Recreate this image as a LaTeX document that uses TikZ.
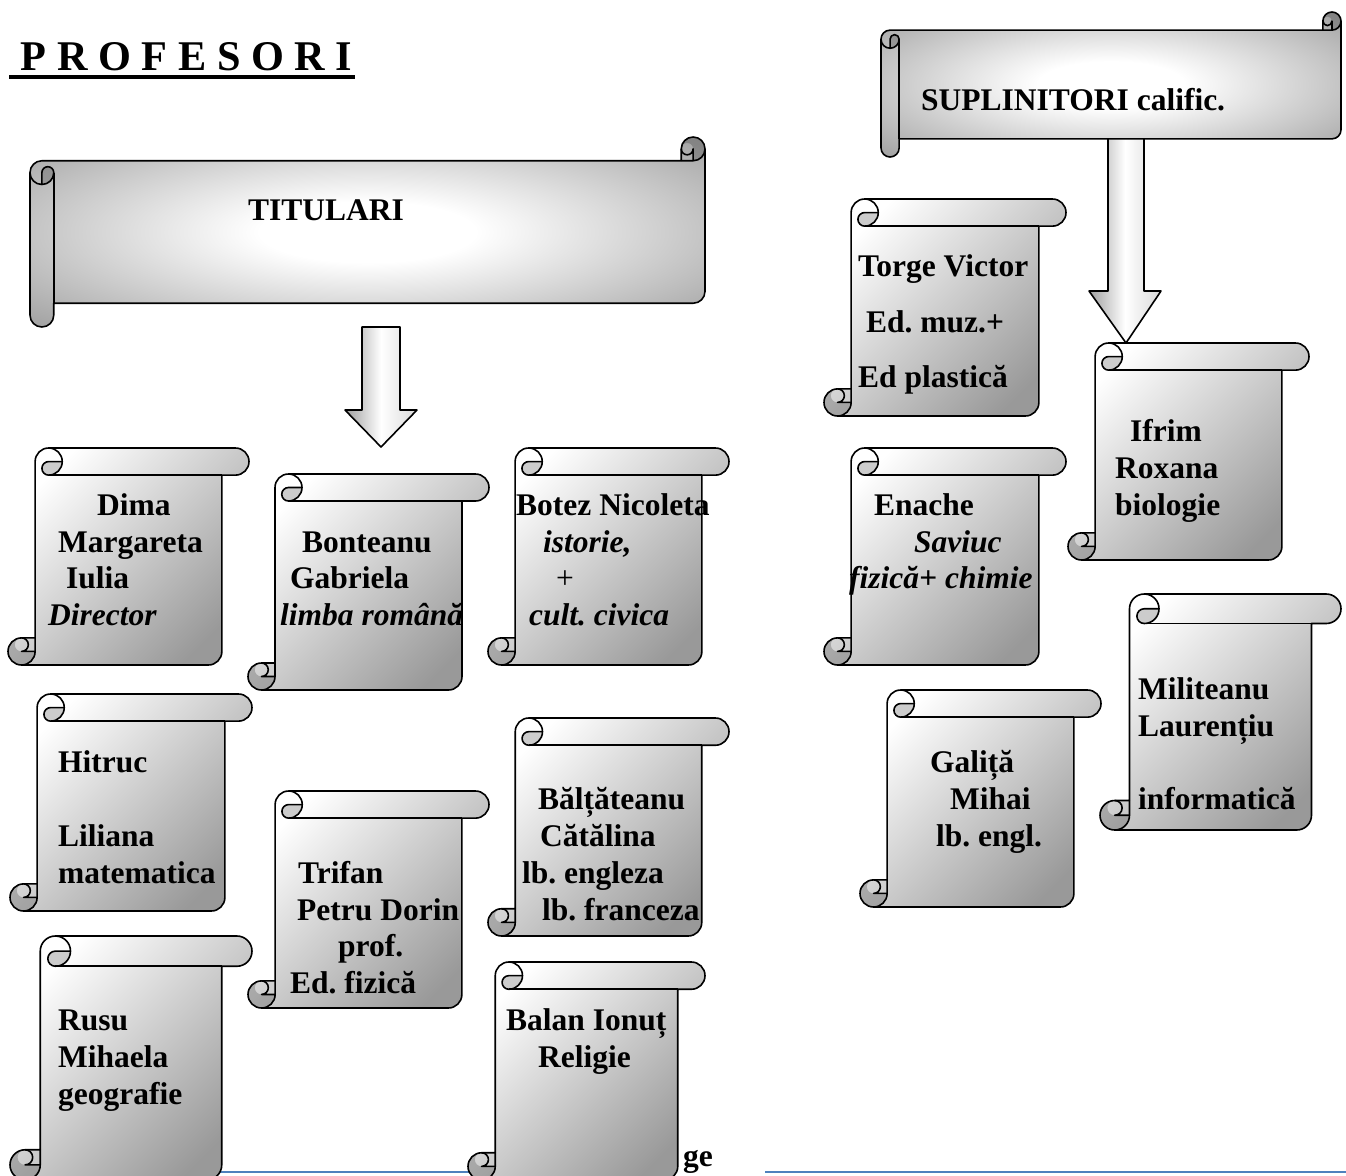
\documentclass[tikz,border=0pt]{standalone}
\usepackage{fontspec}
\setmainfont{Liberation Serif}
\frenchspacing
\pgfdeclareradialshading{hscshade}{\pgfpoint{0bp}{0bp}}{color(0bp)=(white); color(8bp)=(white); color(36bp)=(black!38); color(50bp)=(black!44); color(100bp)=(black!44)}
\tikzset{
  outl/.style={draw=black, line width=1.6pt, line join=round},
  vfill/.style={shading=axis, top color=white, bottom color=black!40, shading angle=45},
  hfill/.style={shading=hscshade},
  darkpart/.style={fill=black, fill opacity=0.2},
  txt/.style={font=\fontsize{31.5}{37}\selectfont\bfseries, anchor=base west, inner sep=0pt},
  itxt/.style={txt, font=\fontsize{31.5}{37}\selectfont\bfseries\itshape},
  arrowfill/.style={left color=black!38, right color=black!15, middle color=white},
  footline/.style={draw={rgb,255:red,79;green,129;blue,189}, line width=2.5pt}
}
% vertical scroll: #1 name, #2 left, #3 top, #4 right, #5 bottom
\newcommand{\vscrollshape}[5]{%
  \pgfmathsetmacro{\qL}{#2}\pgfmathsetmacro{\qT}{#3}\pgfmathsetmacro{\qR}{#4}\pgfmathsetmacro{\qB}{#5}%
  \pgfmathsetmacro{\qC}{0.125*min(\qR-\qL,\qB-\qT)}%
  \pgfmathsetmacro{\qH}{\qC/2}\pgfmathsetmacro{\qQ}{\qC/4}%
  \pgfmathsetmacro{\qXa}{\qL+\qC}\pgfmathsetmacro{\qXb}{\qL+\qH}%
  \pgfmathsetmacro{\qXc}{\qL+1.5*\qC}\pgfmathsetmacro{\qXd}{\qL+2*\qC}%
  \pgfmathsetmacro{\qXf}{\qR-\qC}\pgfmathsetmacro{\qXg}{\qR-\qH}%
  \pgfmathsetmacro{\qYa}{\qT+\qC}\pgfmathsetmacro{\qYb}{\qT+\qH}%
  \pgfmathsetmacro{\qYc}{\qB-\qC}\pgfmathsetmacro{\qYd}{\qB-\qH}%
  \path[vfill] (\qXa,\qYc) -- (\qXa,\qYb) arc[start angle=180,delta angle=90,radius=\qH] -- (\qXg,\qT) arc[start angle=270,delta angle=180,radius=\qH] -- (\qXf,\qYa) -- (\qXf,\qYd) arc[start angle=0,delta angle=90,radius=\qH] -- (\qXb,\qB) arc[start angle=90,delta angle=180,radius=\qH] -- cycle;
  \path[darkpart] (\qXd,\qYb) arc[start angle=0,delta angle=90,radius=\qH] arc[start angle=90,delta angle=180,radius=\qQ] -- cycle;
  \path[darkpart] (\qXa,\qYd) arc[start angle=0,delta angle=270,radius=\qH] arc[start angle=270,delta angle=-180,radius=\qQ] -- cycle;
  \draw[outl] (\qXa,\qYc) -- (\qXa,\qYb) arc[start angle=180,delta angle=90,radius=\qH] -- (\qXg,\qT) arc[start angle=270,delta angle=180,radius=\qH] -- (\qXf,\qYa) -- (\qXf,\qYd) arc[start angle=0,delta angle=90,radius=\qH] -- (\qXb,\qB) arc[start angle=90,delta angle=180,radius=\qH] -- cycle;
  \draw[outl] (\qXa,\qYc) -- (\qXa,\qYd) arc[start angle=0,delta angle=90,radius=\qH];
  \draw[outl] (\qXa,\qYd) -- (\qXb,\qYd) arc[start angle=90,delta angle=-180,radius=\qQ];
  \draw[outl] (\qXd,\qYb) -- (\qXc,\qYb) arc[start angle=270,delta angle=-180,radius=\qQ] arc[start angle=90,delta angle=-180,radius=\qH];
  \draw[outl] (\qXc,\qYa) -- (\qXf,\qYa);
  \coordinate (#1) at ({(\qXa+\qXf)/2},{(\qYa+\qYc)/2});
}
% horizontal scroll
\newcommand{\hscrollshape}[5]{%
  \pgfmathsetmacro{\qL}{#2}\pgfmathsetmacro{\qT}{#3}\pgfmathsetmacro{\qR}{#4}\pgfmathsetmacro{\qB}{#5}%
  \pgfmathsetmacro{\qC}{0.125*min(\qR-\qL,\qB-\qT)}%
  \pgfmathsetmacro{\qH}{\qC/2}\pgfmathsetmacro{\qQ}{\qC/4}%
  \pgfmathsetmacro{\qXa}{\qL+\qC}\pgfmathsetmacro{\qXb}{\qL+\qH}%
  \pgfmathsetmacro{\qXc}{\qR-\qC}\pgfmathsetmacro{\qXd}{\qR-\qH}%
  \pgfmathsetmacro{\qYb}{\qT+\qH}\pgfmathsetmacro{\qYa}{\qT+\qC}%
  \pgfmathsetmacro{\qYc}{\qT+1.5*\qC}\pgfmathsetmacro{\qYd}{\qT+2*\qC}%
  \pgfmathsetmacro{\qYe}{\qB-1.5*\qC}\pgfmathsetmacro{\qYf}{\qB-\qC}\pgfmathsetmacro{\qYg}{\qB-\qH}%
  \path[hfill] (\qL,\qYc) arc[start angle=180,delta angle=90,radius=\qH] -- (\qXc,\qYa) -- (\qXc,\qYb) arc[start angle=180,delta angle=180,radius=\qH] -- (\qR,\qYe) arc[start angle=0,delta angle=90,radius=\qH] -- (\qXa,\qYf) -- (\qXa,\qYg) arc[start angle=0,delta angle=180,radius=\qH] -- cycle;
  \path[darkpart] (\qXb,\qYd) arc[start angle=90,delta angle=-90,radius=\qH] arc[start angle=0,delta angle=-180,radius=\qQ] -- cycle;
  \path[darkpart] (\qXd,\qYa) arc[start angle=90,delta angle=-270,radius=\qH] arc[start angle=180,delta angle=180,radius=\qQ] -- cycle;
  \draw[outl] (\qL,\qYc) arc[start angle=180,delta angle=90,radius=\qH] -- (\qXc,\qYa) -- (\qXc,\qYb) arc[start angle=180,delta angle=180,radius=\qH] -- (\qR,\qYe) arc[start angle=0,delta angle=90,radius=\qH] -- (\qXa,\qYf) -- (\qXa,\qYg) arc[start angle=0,delta angle=180,radius=\qH] -- cycle;
  \draw[outl] (\qXc,\qYa) -- (\qXd,\qYa) arc[start angle=90,delta angle=-90,radius=\qH];
  \draw[outl] (\qXd,\qYa) -- (\qXd,\qYb) arc[start angle=0,delta angle=180,radius=\qQ];
  \draw[outl] (\qXb,\qYd) -- (\qXb,\qYc) arc[start angle=180,delta angle=180,radius=\qQ] arc[start angle=0,delta angle=180,radius=\qH];
  \draw[outl] (\qXa,\qYc) -- (\qXa,\qYf);
  \coordinate (#1) at ({(\qXa+\qXc)/2},{(\qYa+\qYf)/2});
}
% block down arrow: #1 name, #2 shaft left, #3 shaft right, #4 top, #5 head y, #6 head left, #7 head right, #8 tip y
\newcommand{\downarrowshape}[8]{%
  \draw[outl, arrowfill] (#2,#4) -- (#3,#4) -- (#3,#5) -- (#7,#5) -- ({(#2+#3)/2},#8) -- (#6,#5) -- (#2,#5) -- cycle;
  \coordinate (#1) at ({(#2+#3)/2},#8);
}
\begin{document}
\begin{tikzpicture}[x=1pt,y=-1pt]
\useasboundingbox[fill=white] (0,0) rectangle (1346,1175);

% title
\node[anchor=base west, inner sep=0pt, font=\fontsize{42.3}{48}\selectfont\bfseries] (title) at (10,70) {\ P R O F E S O R I};
\draw[line width=4pt] (9,77) -- (355,77);

% footer lines
\draw[footline] (150,1172) -- (640,1172);
\draw[footline] (765,1172) -- (1346,1172);
\node[txt] (ge) at (683,1166) {ge};

% headers
\hscrollshape{tit}{30}{137}{705}{327}
\node[txt] (titt) at (248,220) {TITULARI};
\downarrowshape{arrA}{362}{400}{327}{410}{345}{417}{447}

\downarrowshape{arrB}{1108}{1144}{137}{291}{1089}{1161}{343}
\hscrollshape{sup}{881}{12}{1341}{157}
\node[txt] (supt) at (921,110) {SUPLINITORI calific.};

% left column scrolls
\vscrollshape{sDima}{8}{448}{249}{665}
\node[txt] (d1) at (97,515) {Dima};
\node[txt] (d2) at (58,552) {Margareta};
\node[txt] (d3) at (66,588) {Iulia};
\node[itxt] (d4) at (48,625) {Director};

\vscrollshape{sBon}{248}{474}{489}{690}
\node[txt] (b1) at (302,552) {Bonteanu};
\node[txt] (b2) at (290,588) {Gabriela};
\node[itxt] (b3) at (280,625) {limba română};

\vscrollshape{sBot}{488}{448}{729}{665}
\node[txt] (n1) at (516,515) {Botez Nicoleta};
\node[itxt] (n2) at (543,552) {istorie,};
\node[anchor=base west, inner sep=0pt, font=\fontsize{31.5}{37}\selectfont] (n3) at (556,588) {+};
\node[itxt] (n4) at (529,625) {cult. civica};

\vscrollshape{sHit}{10}{694}{252}{911}
\node[txt] (h1) at (58,772) {Hitruc};
\node[txt] (h2) at (58,846) {Liliana};
\node[txt] (h3) at (58,883) {matematica};

\vscrollshape{sTri}{248}{791}{489}{1008}
\node[txt] (t1) at (298,883) {Trifan};
\node[txt] (t2) at (297,920) {Petru Dorin};
\node[txt] (t3) at (338,956) {prof.};
\node[txt] (t4) at (290,993) {Ed. fizică};

\vscrollshape{sBal}{488}{718}{729}{936}
\node[txt] (a1) at (538,809) {Bălțăteanu};
\node[txt] (a2) at (540,846) {Cătălina};
\node[txt] (a3) at (522,883) {lb. engleza};
\node[txt] (a4) at (542,920) {lb. franceza};

\vscrollshape{sRus}{10}{936}{252}{1180}
\node[txt] (r1) at (58,1030) {Rusu};
\node[txt] (r2) at (58,1067) {Mihaela};
\node[txt] (r3) at (58,1104) {geografie};

\vscrollshape{sBln}{468}{962}{705}{1180}
\node[txt] (l1) at (506,1030) {Balan Ionuț};
\node[txt] (l2) at (538,1067) {Religie};

% right column scrolls
\vscrollshape{sTor}{824}{199}{1066}{416}
\node[txt] (o1) at (858,276) {Torge Victor};
\node[txt] (o2) at (866,332) {Ed. muz.+};
\node[txt] (o3) at (858,387) {Ed plastică};

\vscrollshape{sIfr}{1068}{343}{1309}{560}
\node[txt] (i1) at (1130,441) {Ifrim};
\node[txt] (i2) at (1115,478) {Roxana};
\node[txt] (i3) at (1115,515) {biologie};

\vscrollshape{sEna}{824}{448}{1066}{665}
\node[txt] (e1) at (874,515) {Enache};
\node[itxt] (e2) at (914,552) {Saviuc};
\node[itxt] (e3) at (849,588) {fizică+ chimie};

\vscrollshape{sMil}{1100}{594}{1341}{830}
\node[txt] (m1) at (1138,699) {Militeanu};
\node[txt] (m2) at (1138,736) {Laurențiu};
\node[txt] (m3) at (1138,809) {informatică};

\vscrollshape{sGal}{860}{690}{1101}{907}
\node[txt] (g1) at (930,772) {Galiță};
\node[txt] (g2) at (950,809) {Mihai};
\node[txt] (g3) at (936,846) {lb. engl.};
\end{tikzpicture}
\end{document}
